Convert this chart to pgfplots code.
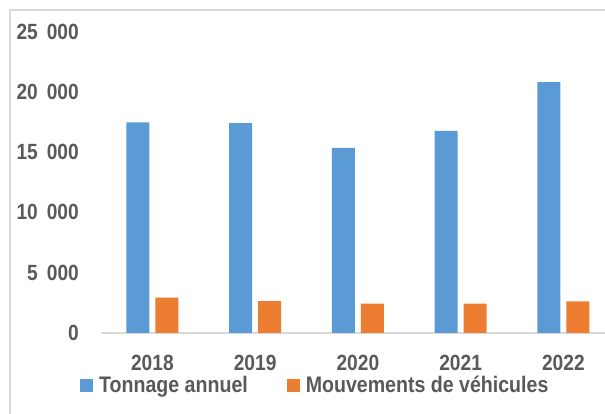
\documentclass[border=0pt]{standalone}
\usepackage{pgfplots}
\pgfplotsset{compat=1.18}
\usepackage{fontspec}
\setmainfont{Liberation Sans}[FakeStretch=0.87]
\definecolor{cblue}{HTML}{5B9BD5}
\definecolor{corange}{HTML}{ED7D31}
\definecolor{ctext}{HTML}{595959}
\definecolor{cline}{HTML}{D9D9D9}
\begin{document}
\begin{tikzpicture}[x=1pt,y=1pt]
\useasboundingbox (0,0) rectangle (605,414);
\draw[cline, line width=1.5pt] (10,-20) rectangle (660,404);
\begin{axis}[
  at={(101pt,81pt)}, anchor=south west,
  scale only axis, width=504pt, height=301.5pt,
  xmin=-0.5, xmax=4.405, ymin=0, ymax=25000,
  ybar=6pt, bar width=23pt,
  axis x line*=bottom, axis y line*=left,
  x axis line style={cline, line width=1.5pt, -},
  y axis line style={draw=none},
  major tick length=0pt,
  scaled y ticks=false,
  xtick={0,1,2,3,4}, xticklabels={2018,2019,2020,2021,2022},
  ytick={0,5000,10000,15000,20000,25000},
  yticklabels={0, 5\hspace{9pt}000, 10\hspace{9pt}000, 15\hspace{9pt}000, 20\hspace{9pt}000, 25\hspace{9pt}000},
  ticklabel style={font=\fontsize{22}{22}\selectfont\bfseries, text=ctext, inner sep=0pt},
  xticklabel style={anchor=base, yshift=-37.5pt},
  yticklabel style={anchor=east, xshift=-22pt},
  legend columns=2,
  legend style={draw=none, fill=none, at={(axis description cs:0,0)}, anchor=north west,
    xshift=-21pt, yshift=-42.5pt, inner sep=0pt,
    font=\fontsize{22.5}{22.5}\selectfont\bfseries, text=ctext,
    nodes={inner sep=0pt, anchor=base west},
    /tikz/every odd column/.append style={column sep=6pt},
    /tikz/every even column/.append style={column sep=39pt}},
  legend image code/.code={\fill[#1] (0pt,0pt) rectangle (13pt,13pt);},
  clip=false,
]
\addplot[fill=cblue, draw=none] coordinates {(0,17470) (1,17410) (2,15340) (3,16750) (4,20810)};
\addplot[fill=corange, draw=none] coordinates {(0,2930) (1,2650) (2,2430) (3,2430) (4,2630)};
\legend{Tonnage annuel, Mouvements de véhicules}
\end{axis}
\end{tikzpicture}
\end{document}
